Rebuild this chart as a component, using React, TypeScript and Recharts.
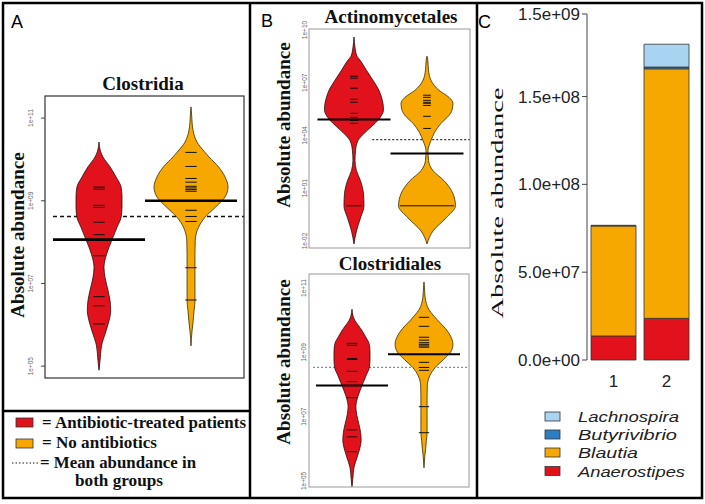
import React from 'react';
import { ComposedChart, Area, XAxis, YAxis, ReferenceLine, BarChart, Bar } from 'recharts';

const W = 705;
const H = 504;
const RED = '#e2121c';
const ORANGE = '#f6a800';
const SERIF = '"Liberation Serif", "Times New Roman", serif';
const SANS = '"Liberation Sans", Arial, sans-serif';

// Clostridia (panel A): log10 abundance levels and bean half-widths
const clostridiaLevels = [11.27, 11.0, 10.79, 10.6, 10.42, 10.2, 10.06, 9.82, 9.575, 9.33, 9.09, 8.85, 8.6, 8.36, 8.04, 7.72, 7.39, 7.15, 6.83, 6.58, 6.34, 6.1, 5.85, 5.49, 5.13, 4.9];
const clostridiaRedWidth = [null, null, null, null, 0, 0.016, 0.043, 0.12, 0.185, 0.24, 0.25, 0.25, 0.24, 0.196, 0.138, 0.084, 0.054, 0.065, 0.098, 0.12, 0.127, 0.109, 0.076, 0.027, 0.011, 0];
const clostridiaYelWidth = [0, 0.009, 0.016, 0.033, 0.065, 0.141, 0.196, 0.299, 0.37, 0.402, 0.37, 0.268, 0.152, 0.082, 0.046, 0.043, 0.043, 0.043, 0.043, 0.043, 0.033, 0.024, 0.011, 0, null, null];
const clostridiaRedObs = [9.33, 9.28, 8.89, 8.84, 8.48, 8.18, 7.67, 6.68, 6.46, 6.02];
const clostridiaYelObs = [10.17, 9.83, 9.54, 9.45, 9.35, 9.31, 9.27, 9.23, 8.77, 8.62, 8.5, 7.38, 6.6];
const clostridiaMeans = [8.06, 9.0];
const clostridiaOverall = 8.62;

// Actinomycetales (panel B, top)
const actinoLevels = [9.6, 9.0, 8.51, 8.29, 7.71, 7.14, 6.57, 6.17, 5.83, 5.43, 5.14, 4.69, 4.17, 3.71, 3.14, 2.57, 2.0, 1.43, 0.69, 0.0, -0.69, -1.43, -2.17];
const actinoRedWidth = [0, 0.014, 0.041, 0.082, 0.171, 0.26, 0.342, 0.377, 0.397, 0.404, 0.377, 0.288, 0.151, 0.055, 0.021, 0.014, 0.034, 0.089, 0.13, 0.137, 0.089, 0.034, 0];
const actinoYelWidth = [null, null, 0, 0.011, 0.021, 0.055, 0.164, 0.301, 0.356, 0.342, 0.301, 0.192, 0.103, 0.055, 0.014, 0.021, 0.082, 0.233, 0.356, 0.39, 0.26, 0.082, 0];
const actinoRedObs = [7.37, 7.26, 6.69, 6.06, 5.89, 5.26, 5.03, 4.86, 4.69, 0.0];
const actinoRedCount = [1, 1, 1, 1, 1, 1, 1, 1, 1, 2];
const actinoYelObs = [6.29, 6.17, 6.0, 5.89, 5.83, 5.71, 5.09, 4.4, 0.0];
const actinoYelCount = [1, 1, 1, 1, 1, 1, 1, 1, 7];
const actinoMeans = [4.91, 2.97];
const actinoOverall = 3.77;

// Clostridiales (panel B, bottom) - same bean shape as Clostridia
const clostridialesLevels = [11.19, 10.92, 10.71, 10.52, 10.34, 10.12, 9.98, 9.74, 9.5, 9.25, 9.01, 8.77, 8.52, 8.28, 7.96, 7.64, 7.31, 7.07, 6.75, 6.5, 6.26, 6.02, 5.77, 5.41, 5.05, 4.82];
const clostridialesRedObs = [9.28, 9.22, 8.81, 8.78, 8.41, 8.09, 7.59, 6.59, 6.37, 5.91];
const clostridialesYelObs = [10.09, 9.81, 9.47, 9.38, 9.3, 9.25, 9.2, 9.16, 8.69, 8.53, 8.44, 7.31, 6.5];
const clostridialesMeans = [7.97, 8.94];
const clostridialesOverall = 8.53;

// Panel C: stacked genus abundances
const samples = ['1', '2'];
const anaerostipes = [1.37e7, 2.37e7];
const blautia = [6.26e7, 1.421e8];
const butyrivibrio = [4e5, 1.0e6];
const lachnospira = [0, 1.3e7];
const cTicks = [0, 5e7, 1e8, 1.5e8, 1.97e8];
const cTickLabels = ['0.0e+00', '5.0e+07', '1.0e+08', '1.5e+08', '1.5e+09'];

type Box = { x: number; y: number; w: number; h: number };
const boxA: Box = { x: 45, y: 96, w: 199, h: 282 };
const boxBU: Box = { x: 309, y: 29, w: 161, h: 219 };
const boxBL: Box = { x: 309, y: 274, w: 160, h: 213 };
const boxC: Box = { x: 587, y: 14, w: 106, h: 346 };

// axis width of 1px is taken out of the margin so the plot area matches the box
const marginOf = (b: Box) => ({ top: b.y, left: b.x - 1, right: W - b.x - b.w, bottom: H - b.y - b.h - 1 });

const sciLabel = (e: number) => `1e${e < 0 ? '-' : '+'}${String(Math.abs(e)).padStart(2, '0')}`;

const layer: React.CSSProperties = { position: 'absolute', left: 0, top: 0 };

interface BeanProps {
  box: Box;
  xDomain: [number, number];
  yDomain: [number, number];
  ticks: number[];
  levels: number[];
  redW: (number | null)[];
  yelW: (number | null)[];
  redObs: number[];
  yelObs: number[];
  redN?: number[];
  yelN?: number[];
  means: number[];
  overall: number;
  overallFrom: number;
  obsHalf: number;
  meanWidth: number;
  dash: string;
  dashColor: string;
  tickX: number;
  tickMarks: boolean;
}

const BeanChart: React.FC<BeanProps> = (p) => {
  const data = p.levels.map((e, i) => ({ e, red: p.redW[i], yel: p.yelW[i] }));
  const band = (c: number, key: 'red' | 'yel') => (d: any) =>
    d[key] == null ? [null, null] : [c - d[key], c + d[key]];
  const tick = (t: any) => (
    <text
      x={p.tickX}
      y={t.y}
      transform={`rotate(-90 ${p.tickX} ${t.y})`}
      textAnchor="middle"
      fontSize={6.5}
      fill="#666"
      fontFamily={SANS}
    >
      {sciLabel(t.payload.value)}
    </text>
  );
  const xAxis = <XAxis type="number" hide domain={p.xDomain} allowDataOverflow />;
  return (
    <>
      {/* overall mean sits underneath the beans */}
      <div style={layer}>
        <ComposedChart width={W} height={H} layout="vertical" data={data} margin={marginOf(p.box)}>
          {xAxis}
          <YAxis type="number" dataKey="e" domain={p.yDomain} allowDataOverflow reversed width={1} axisLine={false} tickLine={false} tick={false} />
          <ReferenceLine
            segment={[{ x: p.overallFrom, y: p.overall }, { x: p.xDomain[1], y: p.overall }]}
            stroke={p.dashColor}
            strokeWidth={1.3}
            strokeDasharray={p.dash}
          />
        </ComposedChart>
      </div>
      <div style={layer}>
        <ComposedChart width={W} height={H} layout="vertical" data={data} margin={marginOf(p.box)}>
          {xAxis}
          <YAxis
            type="number"
            dataKey="e"
            domain={p.yDomain}
            allowDataOverflow
            reversed
            ticks={p.ticks}
            interval={0}
            width={1}
            axisLine={false}
            tickLine={p.tickMarks ? { stroke: '#444' } : false}
            tickSize={4}
            tick={tick}
          />
          <Area type="monotone" dataKey={band(1, 'red')} fill={RED} fillOpacity={1} stroke="#2a0a0a" strokeWidth={0.8} isAnimationActive={false} />
          <Area type="monotone" dataKey={band(2, 'yel')} fill={ORANGE} fillOpacity={1} stroke="#3a2a00" strokeWidth={0.8} isAnimationActive={false} />
          {p.redObs.map((v, i) => {
            const h = p.obsHalf * (p.redN ? p.redN[i] : 1);
            return <ReferenceLine key={'r' + i} segment={[{ x: 1 - h, y: v }, { x: 1 + h, y: v }]} stroke="#111" strokeWidth={1} />;
          })}
          {p.yelObs.map((v, i) => {
            const h = p.obsHalf * (p.yelN ? p.yelN[i] : 1);
            return <ReferenceLine key={'y' + i} segment={[{ x: 2 - h, y: v }, { x: 2 + h, y: v }]} stroke="#111" strokeWidth={1} />;
          })}
          <ReferenceLine segment={[{ x: 0.5, y: p.means[0] }, { x: 1.5, y: p.means[0] }]} stroke="#000" strokeWidth={p.meanWidth} />
          <ReferenceLine segment={[{ x: 1.5, y: p.means[1] }, { x: 2.5, y: p.means[1] }]} stroke="#000" strokeWidth={p.meanWidth} />
        </ComposedChart>
      </div>
    </>
  );
};

const GenusChart: React.FC = () => {
  const data = samples.map((name, i) => ({
    name,
    anaerostipes: anaerostipes[i],
    blautia: blautia[i],
    butyrivibrio: butyrivibrio[i],
    lachnospira: lachnospira[i],
  }));
  const yTick = (t: any) => (
    <text x={boxC.x - 7} y={t.y} dy={6} textAnchor="end" fontSize={17} fill="#222" fontFamily={SANS}>
      {cTickLabels[cTicks.indexOf(t.payload.value)]}
    </text>
  );
  const xTick = (t: any) => (
    <text x={t.x} y={387} textAnchor="middle" fontSize={17} fill="#222" fontFamily={SANS}>
      {t.payload.value}
    </text>
  );
  return (
    <BarChart width={W} height={H} data={data} margin={marginOf(boxC)} barSize={45}>
      <XAxis dataKey="name" height={1} axisLine={false} tickLine={false} tick={xTick} />
      <YAxis
        type="number"
        domain={[0, cTicks[cTicks.length - 1]]}
        ticks={cTicks}
        interval={0}
        width={1}
        axisLine={{ stroke: '#444' }}
        tickLine={{ stroke: '#444' }}
        tickSize={5}
        tick={yTick}
      />
      <Bar dataKey="anaerostipes" stackId="s" fill={RED} stroke="#333" strokeWidth={0.8} isAnimationActive={false} />
      <Bar dataKey="blautia" stackId="s" fill={ORANGE} stroke="#333" strokeWidth={0.8} isAnimationActive={false} />
      <Bar dataKey="butyrivibrio" stackId="s" fill="#2f7ec1" stroke="#333" strokeWidth={0.8} isAnimationActive={false} />
      <Bar dataKey="lachnospira" stackId="s" fill="#a8d4f2" stroke="#333" strokeWidth={0.8} isAnimationActive={false} />
    </BarChart>
  );
};

export default function App() {
  const cLegend = [
    { name: 'Lachnospira', color: '#a8d4f2', y: 416.5, len: 101 },
    { name: 'Butyrivibrio', color: '#2f7ec1', y: 434.5, len: 99 },
    { name: 'Blautia', color: ORANGE, y: 452.5, len: 60 },
    { name: 'Anaerostipes', color: RED, y: 471, len: 107 },
  ];
  return (
    <div style={{ position: 'relative', width: W, height: H, background: '#fff' }}>
      <style>{'body{margin:0}'}</style>
      <BeanChart
        box={boxA}
        xDomain={[0.413, 2.576]}
        yDomain={[4.689, 11.534]}
        ticks={[5, 7, 9, 11]}
        levels={clostridiaLevels}
        redW={clostridiaRedWidth}
        yelW={clostridiaYelWidth}
        redObs={clostridiaRedObs}
        yelObs={clostridiaYelObs}
        means={clostridiaMeans}
        overall={clostridiaOverall}
        overallFrom={0.5}
        obsHalf={0.062}
        meanWidth={2.6}
        dash="4 3"
        dashColor="#111"
        tickX={33}
        tickMarks
      />
      <BeanChart
        box={boxBU}
        xDomain={[0.384, 2.589]}
        yDomain={[-2.457, 10.057]}
        ticks={[-2, 1, 4, 7, 10]}
        levels={actinoLevels}
        redW={actinoRedWidth}
        yelW={actinoYelWidth}
        redObs={actinoRedObs}
        yelObs={actinoYelObs}
        redN={actinoRedCount}
        yelN={actinoYelCount}
        means={actinoMeans}
        overall={actinoOverall}
        overallFrom={1.25}
        obsHalf={0.053}
        meanWidth={2}
        dash="2 2"
        dashColor="#333"
        tickX={307}
        tickMarks={false}
      />
      <BeanChart
        box={boxBL}
        xDomain={[0.403, 2.625]}
        yDomain={[4.78, 11.4375]}
        ticks={[5, 7, 9, 11]}
        levels={clostridialesLevels}
        redW={clostridiaRedWidth}
        yelW={clostridiaYelWidth}
        redObs={clostridialesRedObs}
        yelObs={clostridialesYelObs}
        means={clostridialesMeans}
        overall={clostridialesOverall}
        overallFrom={0.46}
        obsHalf={0.072}
        meanWidth={2}
        dash="2 2"
        dashColor="#888"
        tickX={306}
        tickMarks={false}
      />
      <div style={layer}>
        <GenusChart />
      </div>
      <svg width={W} height={H} style={{ ...layer, pointerEvents: 'none' }}>
        {/* figure frame and panel dividers */}
        <rect x={3} y={3} width={699} height={495} fill="none" stroke="#000" strokeWidth={2.5} />
        <line x1={250} y1={3} x2={250} y2={498} stroke="#000" strokeWidth={2.5} />
        <line x1={477} y1={3} x2={477} y2={498} stroke="#000" strokeWidth={2.5} />
        <line x1={3} y1={411} x2={250} y2={411} stroke="#000" strokeWidth={2.5} />
        {/* plot frames */}
        <rect x={boxA.x} y={boxA.y} width={boxA.w} height={boxA.h} fill="none" stroke="#333" strokeWidth={1.2} />
        <rect x={boxBU.x} y={boxBU.y} width={boxBU.w} height={boxBU.h} fill="none" stroke="#999" strokeWidth={1} />
        <rect x={boxBL.x} y={boxBL.y} width={boxBL.w} height={boxBL.h} fill="none" stroke="#999" strokeWidth={1} />
        {/* panel letters */}
        <g fontFamily={SANS} fontSize={18} fill="#000">
          <text x={11} y={28}>A</text>
          <text x={261} y={27}>B</text>
          <text x={478} y={28}>C</text>
        </g>
        {/* titles */}
        <g fontFamily={SERIF} fontWeight="bold" fontSize={19} fill="#111" textAnchor="middle">
          <text x={143} y={90}>Clostridia</text>
          <text x={391} y={23}>Actinomycetales</text>
          <text x={390} y={270}>Clostridiales</text>
        </g>
        {/* axis titles */}
        <g fontFamily={SERIF} fontWeight="bold" fontSize={19} fill="#111" textAnchor="middle">
          <text x={24} y={235} transform="rotate(-90 24 235)">Absolute abundance</text>
          <text x={290} y={125} transform="rotate(-90 290 125)">Absolute abundance</text>
          <text x={290} y={362} transform="rotate(-90 290 362)">Absolute abundance</text>
        </g>
        <text x={503} y={203} transform="rotate(-90 503 203)" textAnchor="middle" fontFamily={SERIF} fontSize={17} fill="#111" textLength={231} lengthAdjust="spacingAndGlyphs">
          Absolute abundance
        </text>
        {/* panel A legend */}
        <rect x={16} y={418} width={17} height={9} fill={RED} stroke="#333" strokeWidth={0.8} />
        <rect x={16} y={439} width={17} height={9} fill={ORANGE} stroke="#333" strokeWidth={0.8} />
        <line x1={12} y1={463} x2={38} y2={463} stroke="#222" strokeWidth={1.2} strokeDasharray="1.5 2" />
        <g fontFamily={SERIF} fontWeight="bold" fontSize={17} fill="#111">
          <text x={42} y={428} textLength={204} lengthAdjust="spacingAndGlyphs">= Antibiotic-treated patients</text>
          <text x={42} y={448} textLength={115} lengthAdjust="spacingAndGlyphs">= No antibiotics</text>
          <text x={40} y={468} textLength={156} lengthAdjust="spacingAndGlyphs">= Mean abundance in</text>
          <text x={75} y={486} textLength={88} lengthAdjust="spacingAndGlyphs">both groups</text>
        </g>
        {/* panel C legend */}
        {cLegend.map((l) => (
          <g key={l.name}>
            <rect x={545} y={l.y - 4.5} width={15} height={9} fill={l.color} stroke="#333" strokeWidth={0.8} />
            <text x={578} y={l.y + 5.5} fontFamily={SANS} fontStyle="italic" fontSize={15.5} fill="#222" textLength={l.len} lengthAdjust="spacingAndGlyphs">{l.name}</text>
          </g>
        ))}
      </svg>
    </div>
  );
}
